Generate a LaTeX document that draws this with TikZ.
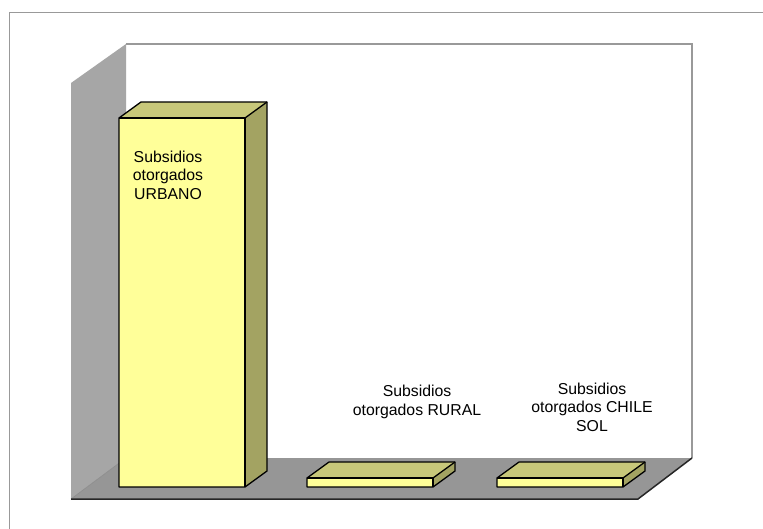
\documentclass[tikz,border=0pt]{standalone}
\usepackage{fontspec}
\setmainfont{Liberation Sans}
\definecolor{wallL}{HTML}{A6A6A6}
\definecolor{floorC}{HTML}{969696}
\definecolor{edgeC}{HTML}{999999}
\definecolor{barF}{HTML}{FFFF99}
\definecolor{barT}{HTML}{C8C87A}
\definecolor{barS}{HTML}{A3A362}
\tikzset{
  barline/.style={draw=black, line width=1.3pt, line join=round},
  lbl/.style={font=\fontsize{15.8bp}{18.6bp}\selectfont, align=center, inner sep=0pt}
}
\newcommand{\mybar}[4]{% x1 x2 ytop ybottom
  \fill[barF] (#1,#3) rectangle (#2,#4);
  \fill[barT] (#1,#3) -- ++(22,-16) -- ($(#2,#3)+(22,-16)$) -- (#2,#3) -- cycle;
  \fill[barS] (#2,#3) -- ++(22,-16) -- ($(#2,#4)+(22,-16)$) -- (#2,#4) -- cycle;
  \draw[barline] (#1,#4) -- (#1,#3) -- ++(22,-16) -- ($(#2,#3)+(22,-16)$) -- ($(#2,#4)+(22,-16)$) -- (#2,#4) -- cycle;
  \draw[barline] (#1,#3) -- (#2,#3) -- (#2,#4);
  \draw[barline] (#2,#3) -- ++(22,-16);
}
\usetikzlibrary{calc}
\begin{document}
\begin{tikzpicture}[x=1bp,y=-1bp]
\useasboundingbox (0,0) rectangle (763,529);
\fill[white] (0,0) rectangle (763,529);
% outer border
\draw[edgeC, line width=0.8pt] (9,529) -- (9,12) -- (763,12);
% left wall
\fill[wallL] (71,83) -- (126,44) -- (126,458) -- (71,499) -- cycle;
% floor
\fill[floorC] (71,499) -- (126,458) -- (692,458) -- (638,499) -- cycle;
\draw[black!45, line width=0.6pt] (71,499) -- (126,458);
% back wall frame
\draw[edgeC, line width=2pt] (126,44) -- (692,44) -- (692,458);
% floor front edges
\draw[black!85, line width=1.5pt] (71,499) -- (638,499) -- (692,458);
% bars
\mybar{119}{245}{118}{487}
\mybar{307}{433}{478}{487}
\mybar{497}{623}{478}{487}
% labels
\node[lbl] (urb) at (168,175) {Subsidios\\otorgados\\URBANO};
\node[lbl] (rur) at (417,402) {Subsidios\\otorgados RURAL};
\node[lbl] (chi) at (592,407) {Subsidios\\otorgados CHILE\\SOL};
\end{tikzpicture}
\end{document}
